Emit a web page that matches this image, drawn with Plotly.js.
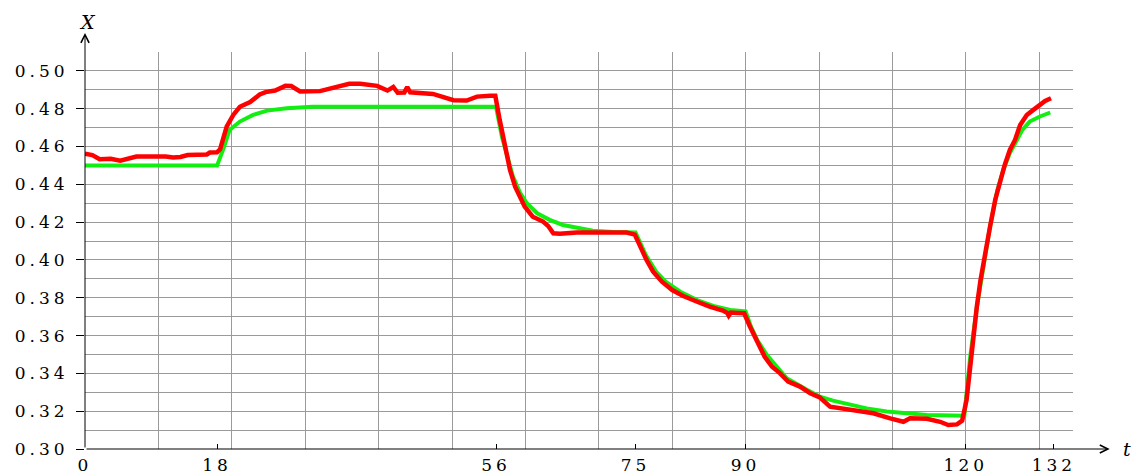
<!DOCTYPE html>
<html>
<head>
<meta charset="utf-8">
<script src="https://cdn.plot.ly/plotly-3.0.1.min.js"></script>
<style>
  html, body { margin: 0; padding: 0; background: #fff; }
  #chart { width: 1137px; height: 475px; }
  .xtick text, .ytick text { letter-spacing: 4px; }
</style>
</head>
<body>
<div id="chart"></div>
<script>
// Model response (green)
const modelT = [0, 18, 18.8, 19.7, 21.1, 22.9, 24.8, 27.5, 31, 56,
  56.8, 57.6, 58.3, 59.3, 60.2, 61.6, 63.3, 65.1, 67.4, 69.2, 72, 75,
  76.4, 77.8, 79.1, 81.1, 83.4, 85.6, 87.9, 90,
  90.7, 91.6, 92.9, 95.6, 98.4, 100.1, 101.9, 104.2, 106.5, 109.2, 111.9, 114.7, 119.8,
  120.6, 121.5, 122.4, 123.3, 124.3, 125.1, 126, 126.9, 127.7, 128.7, 130.1, 131.5];
const modelX = [0.450, 0.450, 0.4582, 0.4688, 0.4732, 0.4767, 0.4790, 0.4802, 0.4810, 0.4810,
  0.4652, 0.4529, 0.4441, 0.4353, 0.4300, 0.4247, 0.4212, 0.4185, 0.4168, 0.4155, 0.4148, 0.4145,
  0.4026, 0.3938, 0.3885, 0.3832, 0.3788, 0.3757, 0.3735, 0.3728,
  0.3650, 0.3575, 0.3497, 0.3374, 0.3312, 0.3277, 0.3256, 0.3233, 0.3215, 0.3198, 0.3189, 0.3180, 0.3176,
  0.3490, 0.3750, 0.3965, 0.4176, 0.4370, 0.4476, 0.4565, 0.4635, 0.4688, 0.4732, 0.4759, 0.4780];

// Measured response (red)
const measT = [0, 1, 2, 3.5, 4.8, 6, 7, 11, 12, 13, 14, 16.6, 17, 18,
  18.4, 19.3, 20.2, 21.1, 22.5, 23.8, 24.6, 25.9, 27.3, 28.1, 29.3, 32, 33.8, 36, 37.5,
  39.8, 41.2, 42, 42.6, 43.5, 43.9, 44.3, 47.4, 48.8, 50.2, 52, 53.4, 55.2, 55.9,
  56.5, 57, 57.5, 57.9, 58.6, 59.3, 59.9, 61, 62.4, 63.1, 63.8, 64.7, 67, 70, 73.8, 74.9,
  75.6, 76.5, 77.4, 78.6, 80, 81.5, 83.4, 85.1, 86.9, 87.5, 87.7, 88, 88.8, 89.8,
  90.6, 91.5, 92.6, 93.6, 94.7, 95.8, 97.4, 98.8, 100.1, 101.5, 102.9, 105.2, 107.4,
  109.7, 111.5, 112.4, 114.7, 116.5, 117.6, 118.8, 119.5,
  120.1, 120.6, 121, 121.5, 122, 122.6, 123.3, 124, 124.7, 125.3, 126, 126.7, 127.4,
  128.3, 129.2, 130.1, 130.8, 131.6];
const measX = [0.4562, 0.4555, 0.4533, 0.4535, 0.4525, 0.4535, 0.4547, 0.4547, 0.4542, 0.4545, 0.4555, 0.4558, 0.4568, 0.4570,
  0.4585, 0.4705, 0.4767, 0.4810, 0.4835, 0.4875, 0.4888, 0.4896, 0.4921, 0.4920, 0.4891, 0.4893, 0.4912, 0.4932, 0.4932,
  0.4921, 0.4896, 0.4915, 0.4884, 0.4885, 0.4915, 0.4887, 0.4878, 0.4862, 0.4845, 0.4843, 0.4864, 0.4868, 0.4868,
  0.4740, 0.4635, 0.4547, 0.4476, 0.4388, 0.4326, 0.4282, 0.4229, 0.4203, 0.4180, 0.4141, 0.4138, 0.4145, 0.4145, 0.4145, 0.4134,
  0.4070, 0.4000, 0.3938, 0.3885, 0.3841, 0.3809, 0.3779, 0.3753, 0.3732, 0.3720, 0.3705, 0.3722, 0.3720, 0.3718,
  0.3647, 0.3577, 0.3488, 0.3435, 0.3400, 0.3356, 0.3330, 0.3295, 0.3273, 0.3224, 0.3215, 0.3206, 0.3189,
  0.3162, 0.3144, 0.3162, 0.3160, 0.3144, 0.3127, 0.3130, 0.3150,
  0.3260, 0.3435, 0.3612, 0.3753, 0.3894, 0.4035, 0.4176, 0.4317, 0.4423, 0.4503, 0.4582, 0.4635, 0.4714,
  0.4767, 0.4794, 0.4820, 0.4841, 0.4855];

// Axis ticks
const xTickVals = [0, 18, 56, 75, 90, 120, 132];
const xTickText = ['0', '18', '56', '75', '90', '120', '132'];
const yTickVals = [0.30, 0.32, 0.34, 0.36, 0.38, 0.40, 0.42, 0.44, 0.46, 0.48, 0.50];
const yTickText = ['0.30', '0.32', '0.34', '0.36', '0.38', '0.40', '0.42', '0.44', '0.46', '0.48', '0.50'];
const xRange = [0, 134.6];
const yRange = [0.30, 0.51];
const xArrowEnd = 139.6;
const yArrowEnd = 0.5201;

const gridColor = '#9a9a9a';
const tickFont = { family: 'DejaVu Serif', size: 17, color: '#000' };
const axisLabelFont = { family: 'DejaVu Serif', size: 19, color: '#000', style: 'italic' };

const traces = [
  { x: modelT, y: modelX, mode: 'lines', line: { color: '#12ee12', width: 4 }, hoverinfo: 'skip', showlegend: false },
  { x: measT, y: measX, mode: 'lines', line: { color: '#ff0000', width: 4.5 }, hoverinfo: 'skip', showlegend: false }
];

const layout = {
  width: 1137, height: 475,
  margin: { l: 85, r: 64, t: 52, b: 26, pad: 0 },
  paper_bgcolor: '#fff', plot_bgcolor: '#fff',
  showlegend: false,
  xaxis: {
    range: xRange, fixedrange: true,
    tickmode: 'array', tickvals: xTickVals, ticktext: xTickText,
    ticks: 'inside', ticklen: 5, tickwidth: 1, tickcolor: '#000',
    tickfont: tickFont, ticklabelstandoff: 4,
    showgrid: false, zeroline: false, showline: false,
    minor: { tick0: 0, dtick: 10, showgrid: true, gridcolor: gridColor, gridwidth: 1, ticks: '' }
  },
  yaxis: {
    range: yRange, fixedrange: true,
    tickmode: 'array', tickvals: yTickVals, ticktext: yTickText,
    ticks: 'outside', ticklen: 8, tickwidth: 1, tickcolor: '#000',
    tickfont: tickFont, ticklabelstandoff: 4,
    showgrid: true, gridcolor: gridColor, gridwidth: 1,
    zeroline: false, showline: false,
    minor: { tick0: 0.30, dtick: 0.01, showgrid: true, gridcolor: gridColor, gridwidth: 1, ticks: '' }
  },
  annotations: [
    { x: xArrowEnd, y: yRange[0], xref: 'x', yref: 'y', ax: 0, ay: yRange[0], axref: 'x', ayref: 'y',
      showarrow: true, arrowhead: 5, arrowsize: 1.6, arrowwidth: 1, arrowcolor: '#000', text: '' },
    { x: 0, y: yArrowEnd, xref: 'x', yref: 'y', ax: 0, ay: yRange[0], axref: 'x', ayref: 'y',
      showarrow: true, arrowhead: 5, arrowsize: 1.6, arrowwidth: 1, arrowcolor: '#000', text: '' },
    { x: 0.003, y: 1.076, xref: 'paper', yref: 'paper', xanchor: 'center', yanchor: 'middle',
      showarrow: false, text: 'X', font: axisLabelFont },
    { x: 1.055, y: 0.0, xref: 'paper', yref: 'paper', xanchor: 'center', yanchor: 'middle',
      showarrow: false, text: 't', font: axisLabelFont }
  ]
};

Plotly.newPlot('chart', traces, layout, { staticPlot: true, displayModeBar: false });
</script>
</body>
</html>
